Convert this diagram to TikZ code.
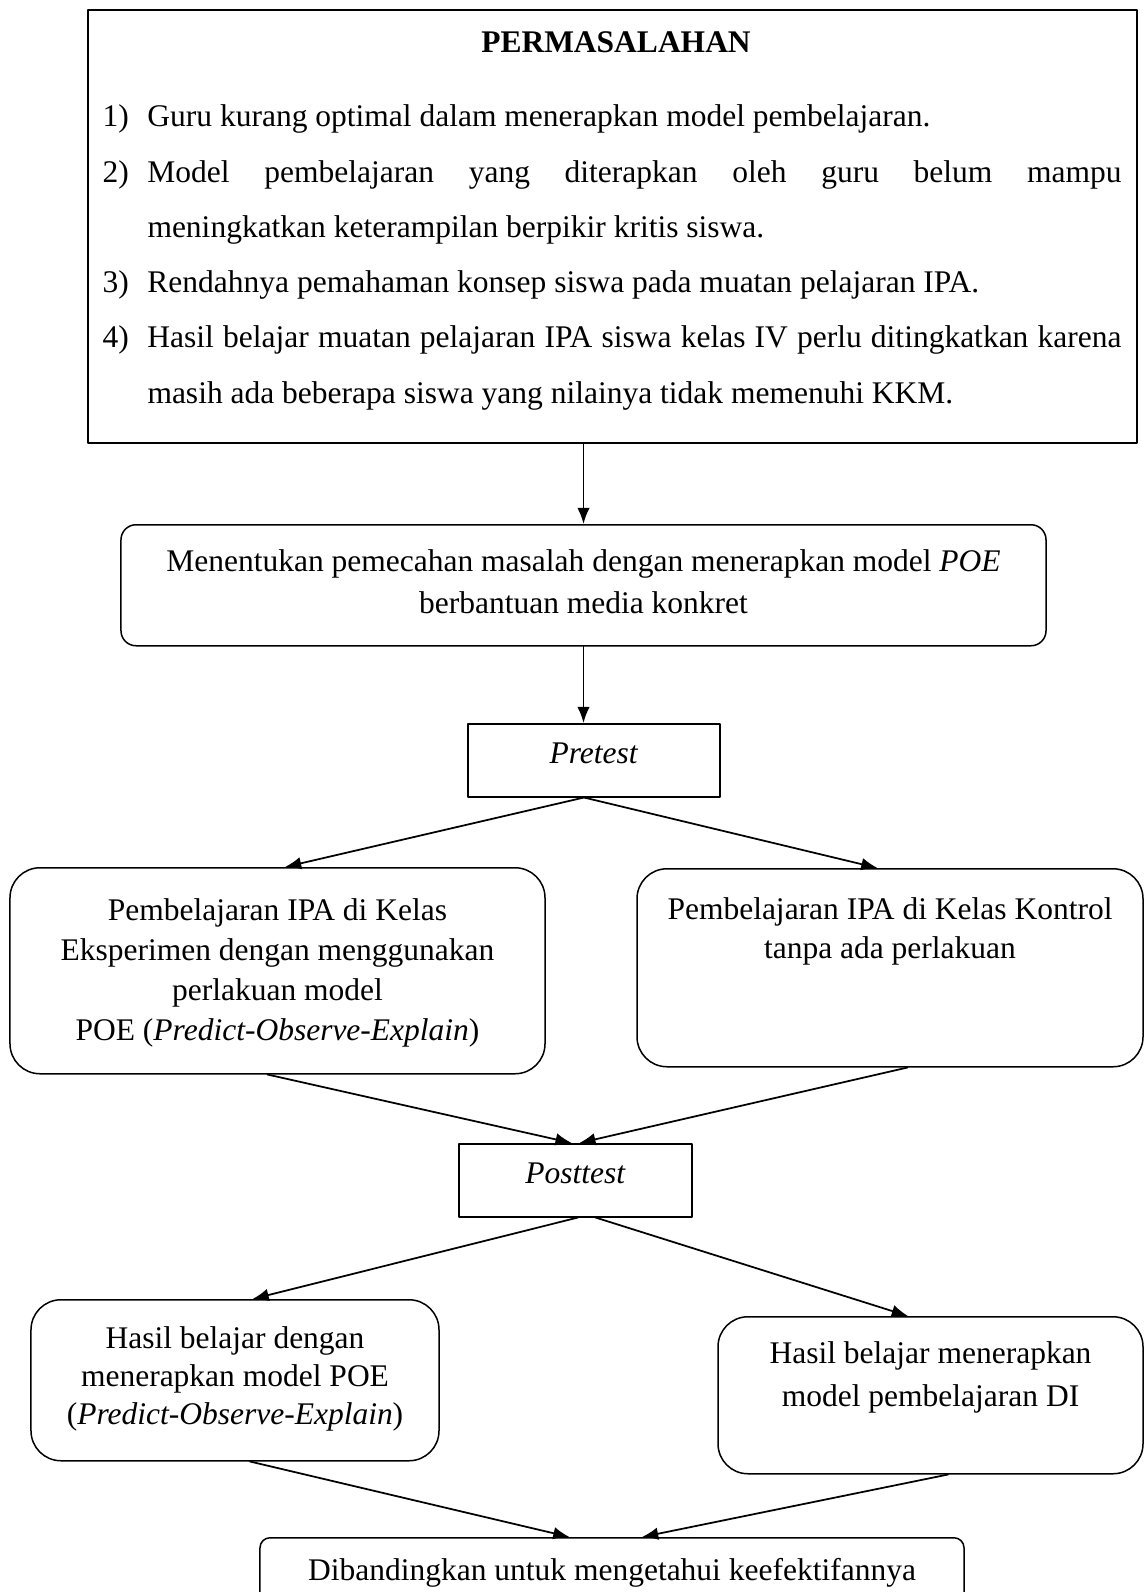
\documentclass[tikz,border=0pt]{standalone}
\usepackage{fontspec}
\setmainfont{Liberation Serif}
\usetikzlibrary{arrows.meta}
\newcommand{\butir}[2]{\hangindent=18pt\hangafter=1\makebox[18pt][l]{#1}#2\par}
\begin{document}
\begin{tikzpicture}[line cap=round, line join=round, font=\fontsize{12.6}{16}\selectfont, >={Latex[length=6.5pt,width=5pt]}, x=0.4pt, y=-0.4pt]
	\tikzset{kotak/.style={draw, line width=0.6pt, inner sep=0pt, align=flush center, anchor=north},
		kotak bulat/.style={kotak, rounded corners=12pt},
		panah/.style={->, line width=0.7pt}}
	\useasboundingbox (0,0) rectangle (1145,1592);
	\node[kotak, line width=0.9pt, minimum width=419.6pt, minimum height=173.2pt, anchor=center] (masalah) at (612.5,226.5) {};
	\node[anchor=base, font=\fontsize{12.6}{16}\selectfont\bfseries] (judul) at (616,53) {PERMASALAHAN};
	\node[anchor=base west, inner sep=0pt, text width=407.6pt, align=justify, font=\fontsize{12.6}{22.08}\selectfont] (daftar) at (102,127) {\hyphenpenalty=10000
		\butir{1)}{Guru kurang optimal dalam menerapkan model pembelajaran.}
		\butir{2)}{Model pembelajaran yang diterapkan oleh guru belum mampu\linebreak meningkatkan keterampilan berpikir kritis siswa.}
		\butir{3)}{Rendahnya pemahaman konsep siswa pada muatan pelajaran IPA.}
		\butir{4)}{Hasil belajar muatan pelajaran IPA siswa kelas IV perlu ditingkatkan karena\linebreak masih ada beberapa siswa yang nilainya tidak memenuhi KKM.}};
	\node[kotak bulat, rounded corners=6pt, text width=370pt, text height=18.8pt, text depth=29.6pt, font=\fontsize{12.6}{16.8}\selectfont] (menentukan) at (583.5,524) {Menentukan pemecahan masalah dengan menerapkan model \textit{POE}\\berbantuan media konkret};
	\node[kotak, text width=100.8pt, text height=16pt, text depth=13.2pt] (pretest) at (594,723) {\textit{Pretest}};
	\node[kotak bulat, text width=214pt, text height=21.2pt, text depth=61.2pt] (eksp) at (277.5,867) {Pembelajaran IPA di Kelas\\Eksperimen dengan menggunakan\\perlakuan model\\POE (\textit{Predict-Observe-Explain})};
	\node[kotak bulat, text width=202.4pt, text height=20.4pt, text depth=58.8pt, font=\fontsize{12.6}{15.6}\selectfont] (kontrol) at (890,868) {Pembelajaran IPA di Kelas Kontrol\\tanpa ada perlakuan};
	\node[kotak, text width=93.2pt, text height=16pt, text depth=13.2pt] (posttest) at (575.5,1143) {\textit{Posttest}};
	\node[kotak bulat, text width=163.2pt, text height=19.6pt, text depth=44.8pt, font=\fontsize{12.6}{15.2}\selectfont] (hasilpoe) at (235,1299) {Hasil belajar dengan\\menerapkan model POE\\(\textit{Predict-Observe-Explain})};
	\node[kotak bulat, text width=170pt, text height=18.8pt, text depth=44pt, font=\fontsize{12.6}{17.2}\selectfont] (hasildi) at (930.5,1316) {Hasil belajar menerapkan\\model pembelajaran DI};
	\node[kotak bulat, rounded corners=4pt, text width=281.6pt, text height=17.2pt, text depth=12pt] (banding) at (612,1537) {Dibandingkan untuk mengetahui keefektifannya};
	\draw[panah] (masalah.south -| menentukan.north) -- (menentukan.north);
	\draw[panah] (menentukan.south) -- (menentukan.south |- pretest.north);
	\draw[panah] ([xshift=-4pt]pretest.south) -- ([xshift=3pt]eksp.north);
	\draw[panah] ([xshift=-4pt]pretest.south) -- ([xshift=-5pt]kontrol.north);
	\draw[panah] ([xshift=-4pt]eksp.south) -- ([xshift=-1.5pt]posttest.north);
	\draw[panah] ([xshift=7pt]kontrol.south) -- ([xshift=1.5pt]posttest.north);
	\draw[panah] ([xshift=1pt]posttest.south) -- ([xshift=7pt]hasilpoe.north);
	\draw[panah] ([xshift=8pt]posttest.south) -- ([xshift=-9pt]hasildi.north);
	\draw[panah] ([xshift=6pt]hasilpoe.south) -- ([xshift=-17pt]banding.north);
	\draw[panah] ([xshift=7pt]hasildi.south) -- ([xshift=12pt]banding.north);
\end{tikzpicture}
\end{document}
